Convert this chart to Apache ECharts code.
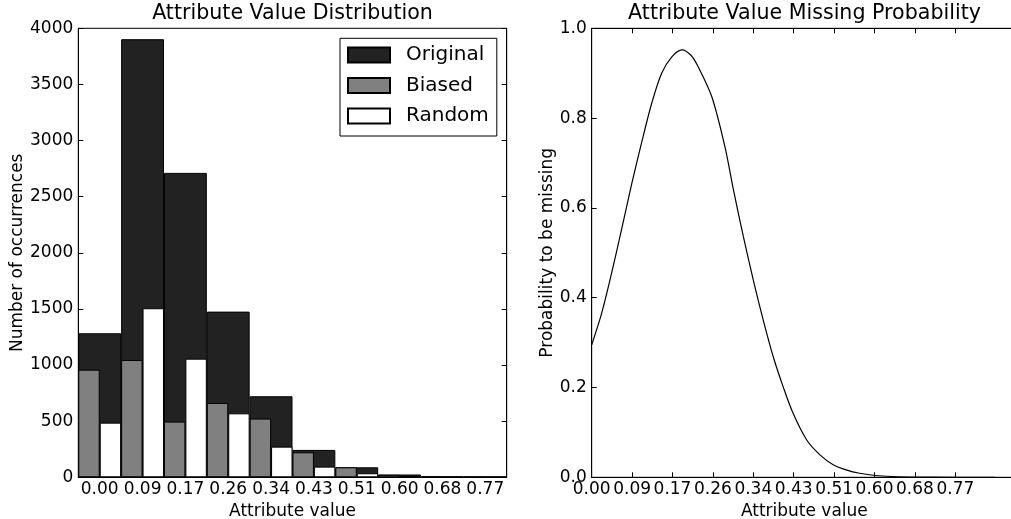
<!DOCTYPE html>
<html>
<head>
<meta charset="utf-8">
<script src="https://cdn.jsdelivr.net/npm/echarts@6/dist/echarts.min.js"></script>
<style>
  html, body { margin: 0; padding: 0; background: #fff; }
  #chart { width: 1011px; height: 519px; }
</style>
</head>
<body>
<div id="chart"></div>
<script>
// histogram bins (left edge labels)
const binLabels = ['0.00', '0.09', '0.17', '0.26', '0.34', '0.43', '0.51', '0.60', '0.68', '0.77'];
const original = [1283, 3903, 2712, 1476, 722, 244, 89, 25, 6, 5];
const biased = [959, 1045, 496, 662, 523, 223, 89, 22, 5, 3];
const random = [487, 1506, 1057, 570, 273, 95, 36, 12, 3, 2];

// missing probability curve
const curveX = [0, 0.021, 0.042, 0.063, 0.085, 0.106, 0.127, 0.148, 0.170, 0.191, 0.210, 0.225, 0.254, 0.282,
  0.300, 0.321, 0.342, 0.363, 0.384, 0.405, 0.426, 0.455, 0.483, 0.511, 0.540, 0.567, 0.600, 0.650, 0.720, 0.853];
const curveY = [0.295, 0.365, 0.454, 0.551, 0.655, 0.747, 0.833, 0.900, 0.937, 0.952, 0.940, 0.915, 0.848, 0.736,
  0.640, 0.536, 0.439, 0.350, 0.269, 0.202, 0.143, 0.083, 0.050, 0.028, 0.016, 0.009, 0.004, 0.001, 0.0003, 0];

// tick positions on the right x axis (bin edges)
const edgeTicks = [0, 0.0855, 0.171, 0.2565, 0.342, 0.4275, 0.513, 0.5985, 0.684, 0.7695];

const FONT = 'DejaVu Sans';
const black = '#000';
const txt = { fontFamily: FONT, fontSize: 17, color: '#000' };

let chart = echarts.init(document.getElementById('chart'));

let option = {
  animation: false,
  textStyle: { fontFamily: FONT },
  title: [
    { text: 'Attribute Value Distribution', left: 292.5, top: 3, padding: 0, textAlign: 'center',
      textStyle: { fontFamily: FONT, fontSize: 20.6, fontWeight: 'normal', color: '#000' } },
    { text: 'Attribute Value Missing Probability', left: 804.5, top: 3, padding: 0, textAlign: 'center',
      textStyle: { fontFamily: FONT, fontSize: 20.6, fontWeight: 'normal', color: '#000' } }
  ],
  legend: {
    data: ['Original', 'Biased', 'Random'],
    orient: 'vertical',
    left: 340, top: 38.3,
    padding: [6.7, 8, 10, 7],
    itemWidth: 42, itemHeight: 15, itemGap: 10.5,
    icon: 'rect',
    selectedMode: false,
    backgroundColor: '#fff',
    borderColor: black, borderWidth: 1,
    textStyle: { fontFamily: FONT, fontSize: 20, lineHeight: 20, color: '#000', padding: [0, 0, 0, 11] }
  },
  grid: [
    { left: 78.3, top: 28.3, width: 428.4, height: 449, outerBoundsMode: 'none', containLabel: false,
      show: true, borderColor: black, borderWidth: 1 },
    { left: 591.7, top: 28.3, right: -6, height: 449, outerBoundsMode: 'none', containLabel: false,
      show: true, borderColor: black, borderWidth: 1 }
  ],
  xAxis: [
    { gridIndex: 0, type: 'category', data: binLabels, boundaryGap: true,
      axisLine: { lineStyle: { color: black } },
      axisTick: { inside: true, alignWithLabel: true, length: 5, lineStyle: { color: black } },
      axisLabel: Object.assign({ interval: 0, margin: 4 }, txt),
      name: 'Attribute value', nameLocation: 'middle', nameGap: 22, nameTextStyle: txt },
    { gridIndex: 0, type: 'category', data: binLabels, position: 'top', boundaryGap: true,
      axisLine: { lineStyle: { color: black } },
      axisTick: { inside: true, alignWithLabel: true, length: 5, lineStyle: { color: black } },
      axisLabel: { show: false } },
    { gridIndex: 1, type: 'value', min: 0, max: 0.9,
      axisLine: { onZero: false, lineStyle: { color: black } },
      splitLine: { show: false },
      axisTick: { inside: true, length: 5, customValues: edgeTicks, lineStyle: { color: black } },
      axisLabel: Object.assign({ margin: 4, customValues: edgeTicks,
        formatter: v => binLabels[edgeTicks.indexOf(v)] }, txt),
      name: 'Attribute value', nameLocation: 'middle', nameGap: 22, nameTextStyle: txt },
    { gridIndex: 1, type: 'value', min: 0, max: 0.9, position: 'top',
      axisLine: { onZero: false, lineStyle: { color: black } },
      splitLine: { show: false },
      axisTick: { inside: true, length: 5, customValues: edgeTicks, lineStyle: { color: black } },
      axisLabel: { show: false } }
  ],
  yAxis: [
    { gridIndex: 0, type: 'value', min: 0, max: 4000, interval: 500,
      axisLine: { show: true, lineStyle: { color: black } },
      splitLine: { show: false },
      axisTick: { show: true, inside: true, length: 5, lineStyle: { color: black } },
      axisLabel: Object.assign({ margin: 5, formatter: v => String(v) }, txt),
      name: 'Number of occurrences', nameLocation: 'middle', nameGap: 52, nameTextStyle: txt },
    { gridIndex: 0, type: 'value', min: 0, max: 4000, interval: 500, position: 'right',
      axisLine: { show: true, lineStyle: { color: black } },
      splitLine: { show: false },
      axisTick: { show: true, inside: true, length: 5, lineStyle: { color: black } },
      axisLabel: { show: false } },
    { gridIndex: 1, type: 'value', min: 0, max: 1, interval: 0.2,
      axisLine: { show: true, lineStyle: { color: black } },
      splitLine: { show: false },
      axisTick: { show: true, inside: true, length: 5, lineStyle: { color: black } },
      axisLabel: Object.assign({ margin: 5, formatter: v => v.toFixed(1) }, txt),
      name: 'Probability to be missing', nameLocation: 'middle', nameGap: 36, nameTextStyle: txt }
  ],
  series: [
    { name: 'Original', type: 'bar', xAxisIndex: 0, yAxisIndex: 0, data: original,
      barWidth: '100%', barGap: '0%',
      itemStyle: { color: '#222222', borderColor: black, borderWidth: 1 } },
    { name: 'Biased', type: 'bar', xAxisIndex: 1, yAxisIndex: 0, data: biased,
      barWidth: '50%', barGap: '0%',
      itemStyle: { color: '#808080', borderColor: black, borderWidth: 1 } },
    { name: 'Random', type: 'bar', xAxisIndex: 1, yAxisIndex: 0, data: random,
      barWidth: '50%', barGap: '0%',
      itemStyle: { color: '#ffffff', borderColor: black, borderWidth: 1 } },
    { name: 'Probability', type: 'line', xAxisIndex: 2, yAxisIndex: 2,
      data: curveX.map((x, i) => [x, curveY[i]]),
      smooth: 0.3, showSymbol: false,
      lineStyle: { color: black, width: 1.2 } }
  ]
};
chart.setOption(option);
</script>
</body>
</html>
